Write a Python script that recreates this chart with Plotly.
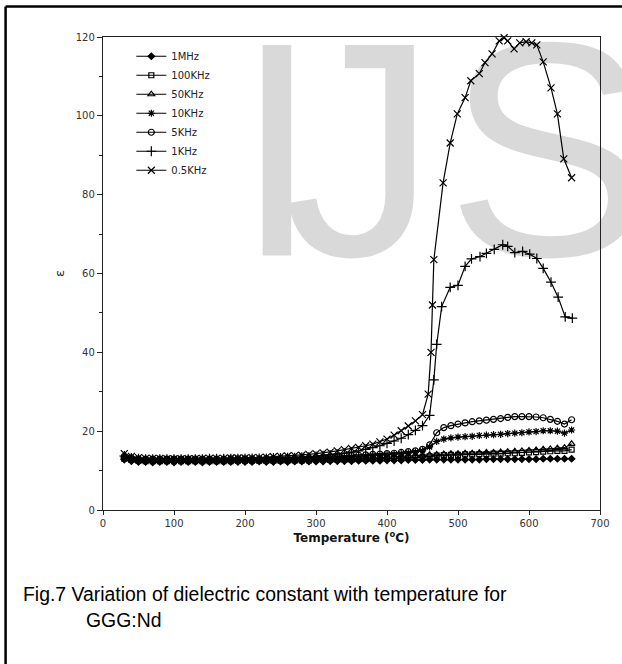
import plotly.graph_objects as go

# ---------------- data ----------------
temps = [30, 40, 50, 60, 70, 80, 90, 100, 110, 120, 130, 140, 150, 160, 170, 180, 190, 200,
         210, 220, 230, 240, 250, 260, 270, 280, 290, 300, 310, 320, 330, 340, 350, 360, 370,
         380, 390, 400, 410, 420, 430, 440, 450, 460, 470, 480, 490, 500, 510, 520, 530, 540,
         550, 560, 570, 580, 590, 600, 610, 620, 630, 640, 650, 660]

eps_1MHz = [12.8, 12.4, 12.2,
            12.2, 12.1, 12.2, 12.2, 12.1, 12.2, 12.2, 12.2, 12.1, 12.2, 12.2, 12.2, 12.2, 12.2,
            12.2, 12.2, 12.3, 12.2, 12.2, 12.3, 12.2, 12.3, 12.3, 12.3, 12.3,
            12.3, 12.4, 12.4, 12.4, 12.4, 12.5, 12.5, 12.5, 12.5, 12.6,
            12.6, 12.6, 12.7, 12.7, 12.7, 12.8,
            12.8, 12.8, 12.8, 12.8, 12.8, 12.8, 12.8, 12.9, 12.9, 12.9, 12.9, 12.9, 12.9, 12.9,
            12.9, 13.0, 13.0, 13.0, 13.0, 13.0]

eps_100KHz = [13.0, 12.7, 12.5,
              12.4, 12.4, 12.4, 12.4, 12.4, 12.4, 12.4, 12.4, 12.4, 12.4, 12.4, 12.4, 12.4,
              12.5, 12.5, 12.5, 12.5, 12.5, 12.5, 12.5, 12.6, 12.6, 12.6, 12.6, 12.7,
              12.7, 12.7, 12.8, 12.8, 12.8, 12.9, 12.9, 13.0, 13.0, 13.0,
              13.1, 13.1, 13.2, 13.3, 13.4, 13.6,
              13.8, 13.9, 14.0, 14.0, 14.1, 14.1, 14.2, 14.2, 14.3, 14.3, 14.4, 14.4, 14.5,
              14.6, 14.7, 14.8, 14.9, 15.0, 15.0, 15.3]

eps_50KHz = [13.3, 12.9, 12.7,
             12.6, 12.6, 12.6, 12.6, 12.6, 12.6, 12.6, 12.6, 12.6, 12.6, 12.6, 12.6, 12.6,
             12.7, 12.7, 12.7, 12.7, 12.7, 12.7, 12.7, 12.8, 12.8, 12.8, 12.8, 12.9,
             12.9, 13.0, 13.0, 13.1, 13.1, 13.2, 13.2, 13.3, 13.3, 13.4,
             13.5, 13.6, 13.6, 13.7, 13.8, 14.0,
             14.1, 14.2, 14.3, 14.3, 14.4, 14.4, 14.5, 14.6, 14.6, 14.7, 14.8, 14.9, 15.0,
             15.1, 15.2, 15.4, 15.5, 15.7, 15.8, 16.8]

eps_10KHz = [13.4, 13.0, 12.8,
             12.7, 12.7, 12.7, 12.7, 12.7, 12.7, 12.7, 12.7, 12.7, 12.7, 12.7, 12.7,
             12.8, 12.8, 12.8, 12.8, 12.8, 12.8, 12.8, 12.9, 12.9, 12.9, 12.9, 13.0, 13.0,
             13.1, 13.2, 13.3, 13.4, 13.5, 13.6, 13.7, 13.8, 13.9, 14.0,
             14.1, 14.3, 14.5, 14.7, 15.0, 16.0,
             17.4, 18.0, 18.3, 18.5, 18.6, 18.7, 18.9, 19.0, 19.1, 19.2, 19.4, 19.5, 19.6,
             19.8, 19.9, 20.1, 20.1, 20.0, 19.5, 20.3]

eps_5KHz = [13.6, 13.2, 13.0,
            12.9, 12.9, 12.9, 12.9, 12.9, 12.9, 12.9, 12.9, 12.9, 12.9, 12.9, 12.9,
            13.0, 13.0, 13.0, 13.0, 13.0, 13.0, 13.0, 13.1, 13.1, 13.1, 13.2, 13.2, 13.3,
            13.4, 13.5, 13.6, 13.7, 13.8, 13.9, 14.0, 14.1, 14.2, 14.3,
            14.4, 14.6, 14.8, 15.0, 15.4, 16.5,
            19.6, 20.9, 21.4, 21.8, 22.1, 22.4, 22.6, 22.8, 23.0, 23.2, 23.5, 23.7, 23.7,
            23.7, 23.6, 23.4, 23.0, 22.5, 21.8, 22.9]

temps_1KHz = [30, 40, 50, 60, 70, 80, 90, 100, 110, 120, 130, 140, 150, 160, 170, 180, 190, 200,
              210, 220, 230, 240, 250, 260, 270, 280, 290, 300, 310, 320, 330, 340, 350, 360,
              370, 380, 390, 400, 410, 420, 430, 440, 450, 460,
              466, 470, 477, 489, 500, 510, 519, 531, 540, 551, 563, 570, 580, 591, 601, 611,
              620, 631, 641, 651, 661]
eps_1KHz = [13.7, 13.2, 13.0,
            12.9, 12.9, 12.9, 12.9, 12.9, 12.9, 12.9, 12.9, 12.9, 13.0, 13.0, 13.0, 13.0, 13.0, 13.0,
            13.1, 13.1, 13.1, 13.2, 13.2, 13.3, 13.3, 13.4, 13.5, 13.6,
            13.8, 14.0, 14.2, 14.4, 14.7, 15.0, 15.4, 15.8, 16.3, 16.9,
            17.5, 18.2, 19.1, 20.2, 21.4, 24.0,
            33.0, 42.0, 51.6, 56.5, 57.0, 61.8, 63.7, 64.3, 65.1, 66.1, 67.3, 66.9, 65.3, 65.6,
            64.9, 63.8, 61.3, 57.8, 54.0, 49.0, 48.7]

temps_05KHz = [30, 40, 50, 60, 70, 80, 90, 100, 110, 120, 130, 140, 150, 160, 170, 180, 190, 200,
               210, 220, 230, 240, 250, 260, 270, 280, 290, 300, 310, 320, 330, 340, 350, 360,
               370, 380, 390, 400, 410, 420, 430, 440, 450,
               458, 462, 464, 466, 479, 489, 499, 510, 518, 530, 538, 548, 558, 565, 570, 579,
               587, 596, 604, 611, 620, 631, 640, 649, 660]
eps_05KHz = [14.3, 13.6, 13.3,
             13.1, 13.1, 13.1, 13.0, 13.0, 13.0, 13.0, 13.0, 13.1, 13.1, 13.1, 13.1, 13.2, 13.2, 13.2,
             13.3, 13.3, 13.4, 13.5, 13.6, 13.7, 13.8, 13.9, 14.1, 14.3,
             14.5, 14.7, 15.0, 15.3, 15.6, 15.9, 16.3, 16.7, 17.3, 18.0,
             19.0, 20.1, 21.3, 22.6, 24.2,
             29.4, 40.0, 52.0, 63.5, 83.0, 93.1, 100.5, 104.6, 108.9, 110.7, 113.5, 115.7,
             119.0, 119.8, 119.0, 117.0, 118.5, 118.8, 118.5, 118.0, 113.7, 107.1, 100.5,
             89.1, 84.3]

series_names = ["1MHz", "100KHz", "50KHz", "10KHz", "5KHz", "1KHz", "0.5KHz"]
series_x = [temps, temps, temps, temps, temps, temps_1KHz, temps_05KHz]
series_y = [eps_1MHz, eps_100KHz, eps_50KHz, eps_10KHz, eps_5KHz, eps_1KHz, eps_05KHz]

x_ticks = [0, 100, 200, 300, 400, 500, 600, 700]
y_ticks = [0, 20, 40, 60, 80, 100, 120]

# watermark letters (decoration, in axis units)
wm_letters = ["I", "J", "S"]
wm_x = [245, 362, 627]
wm_y = [84.0, 84.0, 84.0]

# ---------------- styles ----------------
symbols = ["diamond", "square-open", "triangle-up-open", "asterisk-open",
           "circle-open", "cross-thin-open", "x-thin-open"]
msizes = [5, 5, 6, 6, 6, 7, 7]

fig = go.Figure()

fig.add_trace(go.Scatter(
    x=wm_x, y=wm_y, text=wm_letters, mode="text", showlegend=False,
    hoverinfo="skip", cliponaxis=False,
    textfont=dict(family="Liberation Sans", size=306, color="#d9d9d9"),
    textposition="middle center"))

for name, xs, ys, sym, ms in zip(series_names, series_x, series_y, symbols, msizes):
    fig.add_trace(go.Scatter(
        x=xs, y=ys, name=name, mode="lines+markers", cliponaxis=False,
        line=dict(color="black", width=1.2),
        marker=dict(symbol=sym, size=ms, color="black",
                    line=dict(color="black", width=1.2))))

fig.update_layout(
    width=622, height=664,
    margin=dict(l=103, r=22, t=37, b=154),
    paper_bgcolor="white", plot_bgcolor="white",
    font=dict(family="DejaVu Sans", color="#222"),
    showlegend=True,
    legend=dict(x=0.057, y=0.99, xanchor="left", yanchor="top",
                bgcolor="rgba(0,0,0,0)", font=dict(family="DejaVu Sans", size=10, color="#222"),
                itemwidth=30),
    xaxis=dict(range=[0, 700], tickvals=x_ticks, showgrid=False, zeroline=False,
               showline=True, linecolor="#222", linewidth=1.3, mirror=True,
               ticks="outside", ticklen=4, tickcolor="#222",
               tickfont=dict(family="DejaVu Sans", size=10, color="#333"),
               title=dict(text="Temperature (<sup>o</sup>C)", standoff=3,
                          font=dict(family="DejaVu Sans", size=12, color="#111", weight="bold"))),
    yaxis=dict(range=[0, 120], tickvals=y_ticks, showgrid=False, zeroline=False,
               showline=True, linecolor="#222", linewidth=1.3, mirror=True,
               ticks="outside", ticklen=5, tickcolor="#222",
               minor=dict(dtick=10, ticks="outside", ticklen=3, tickcolor="#222"),
               tickfont=dict(family="DejaVu Sans", size=10, color="#333"),
               title=dict(text="ε", standoff=8,
                          font=dict(family="DejaVu Sans", size=13, color="#222"))),
)

# outer frame of the figure (left and top edges visible)
fig.add_shape(type="line", xref="paper", yref="paper", x0=-0.196, x1=-0.196, y0=1.0645, y1=-0.36,
              line=dict(color="black", width=2.5))
fig.add_shape(type="line", xref="paper", yref="paper", x0=-0.196, x1=1.06, y0=1.0645, y1=1.0645,
              line=dict(color="black", width=2.5))

cap_font = dict(family="Liberation Sans", size=19.4, color="black")
fig.add_annotation(text="Fig.7 Variation of dielectric constant with temperature for",
                   xref="paper", yref="paper", x=-0.165, y=-0.1776, xanchor="left",
                   yanchor="middle", showarrow=False, font=cap_font)
fig.add_annotation(text="GGG:Nd", xref="paper", yref="paper", x=-0.038, y=-0.2326,
                   xanchor="left", yanchor="middle", showarrow=False, font=cap_font)

fig.write_html("out.html", post_script="document.body.style.margin='0';",
               config={"displayModeBar": False})
